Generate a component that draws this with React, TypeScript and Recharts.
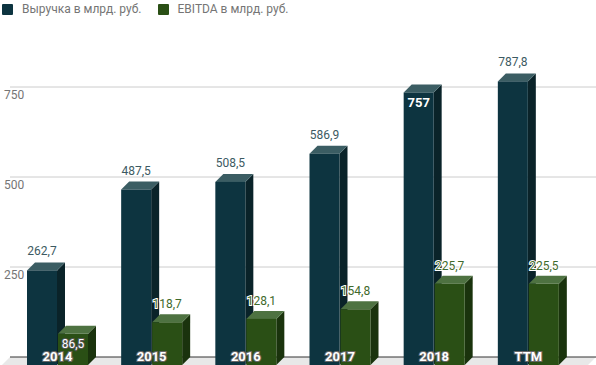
import { BarChart, Bar, XAxis, YAxis, CartesianGrid, LabelList } from "recharts";

const categories = ["2014", "2015", "2016", "2017", "2018", "TTM"];
const revenue = [262.7, 487.5, 508.5, 586.9, 757, 787.8];
const ebitda = [86.5, 118.7, 128.1, 154.8, 225.7, 225.5];
const yTicks = [250, 500, 750];
const seriesNames = ["Выручка в млрд. руб.", "EBITDA в млрд. руб."];

const data = categories.map((year, i) => ({
  year,
  revenue: revenue[i],
  ebitda: ebitda[i],
}));

const W = 596;
const H = 365;
const DEPTH = 8;
const AXIS_W = 10;
const margin = { top: 33, right: 0, bottom: 8, left: 0 };
const FONT = "Roboto, sans-serif";

const REV = { front: "#0d3440", top: "#3b5d63", side: "#0a2329" };
const EBT = { front: "#2a4f15", top: "#4e7241", side: "#1a330d" };

const fmt = (v: number) => String(v).replace(".", ",");

function Bar3D(colors: typeof REV) {
  return (props: any) => {
    const { x, y, width: w, height: h } = props;
    if (h == null || w == null) return null;
    const d = DEPTH;
    return (
      <g>
        <polygon
          points={`${x + w},${y + d} ${x + w + d},${y} ${x + w + d},${y + h} ${x + w},${y + h + d}`}
          fill={colors.side}
        />
        <polygon
          points={`${x},${y + d} ${x + d},${y} ${x + w + d},${y} ${x + w},${y + d}`}
          fill={colors.top}
        />
        <rect x={x} y={y + d} width={w} height={h} fill={colors.front} />
      </g>
    );
  };
}

function RevenueLabel(props: any) {
  const { x, y, width, value, index } = props;
  const cx = x + width / 2;
  if (index === 4) {
    return (
      <text x={cx} y={y + DEPTH + 15} textAnchor="middle" fill="#fff" fontSize={13} fontWeight="bold" fontFamily={FONT}>
        {fmt(value)}
      </text>
    );
  }
  return (
    <text x={cx} y={y - 7} textAnchor="middle" fill="#3c5a62" fontSize={12} fontFamily={FONT}>
      {fmt(value)}
    </text>
  );
}

function EbitdaLabel(props: any) {
  const { x, y, width, value, index } = props;
  const cx = x + width / 2;
  if (index === 0) {
    return (
      <text x={cx} y={y + DEPTH + 14} textAnchor="middle" fill="#fff" stroke="#555" strokeWidth={2}
        paintOrder="stroke" fontSize={12} fontFamily={FONT}>
        {fmt(value)}
      </text>
    );
  }
  return (
    <text x={cx} y={y - 6} textAnchor="middle" fill="#3f6a2c" stroke="#fff" strokeWidth={2}
      paintOrder="stroke" fontSize={12} fontFamily={FONT}>
      {fmt(value)}
    </text>
  );
}

function YearLabel(props: any) {
  const { x, value } = props;
  return (
    <text x={x - 0.5} y={H - 4.5} textAnchor="middle" fill="#fff" stroke="#666" strokeWidth={2.2}
      paintOrder="stroke" fontSize={13} fontWeight="bold" fontFamily={FONT}>
      {value}
    </text>
  );
}

function YTick(props: any) {
  const { y, payload } = props;
  return (
    <text x={4} y={y + 12} textAnchor="start" fill="#757575" fontSize={12} fontFamily={FONT}>
      {payload.value}
    </text>
  );
}

function Legend() {
  const item = (color: string, label: string) => (
    <div style={{ display: "flex", alignItems: "center", marginRight: 16 }}>
      <div style={{ width: 11, height: 11, background: color, borderRadius: 1, marginRight: 9 }} />
      <span style={{ fontSize: 12, color: "#757575", fontFamily: FONT, whiteSpace: "nowrap" }}>{label}</span>
    </div>
  );
  return (
    <div style={{ position: "absolute", left: 2, top: 3, display: "flex", height: 12 }}>
      {item(REV.front, seriesNames[0])}
      {item(EBT.front, seriesNames[1])}
    </div>
  );
}

export default function App() {
  const base = H - margin.bottom;
  const L = margin.left + AXIS_W;
  return (
    <div style={{ position: "absolute", left: 0, top: 0, width: W, height: H, background: "#fff", overflow: "hidden" }}>
      <svg width={W} height={H} style={{ position: "absolute", left: 0, top: 0 }}>
        <polygon
          points={`${L},${base} ${W},${base} ${W - DEPTH},${H} ${L - DEPTH},${H}`}
          fill="#e8e8e8"
        />
        <line x1={L} y1={base} x2={W} y2={base} stroke="#333" strokeWidth={1} />
      </svg>
      <div style={{ position: "absolute", left: 0, top: 0 }}>
        <BarChart width={W} height={H} data={data} margin={margin} barSize={30} barGap={1}>
          <CartesianGrid vertical={false} horizontalValues={yTicks} stroke="#cccccc" />
          <XAxis dataKey="year" hide padding={{ left: 0, right: 21 }} />
          <YAxis
            width={AXIS_W}
            domain={[0, 900]}
            ticks={yTicks}
            axisLine={false}
            tickLine={false}
            tick={<YTick />}
            interval={0}
          />
          <Bar dataKey="revenue" isAnimationActive={false} shape={Bar3D(REV)}>
            <LabelList dataKey="revenue" content={<RevenueLabel />} />
          </Bar>
          <Bar dataKey="ebitda" isAnimationActive={false} shape={Bar3D(EBT)}>
            <LabelList dataKey="ebitda" content={<EbitdaLabel />} />
            <LabelList dataKey="year" content={<YearLabel />} />
          </Bar>
        </BarChart>
      </div>
      <Legend />
    </div>
  );
}
